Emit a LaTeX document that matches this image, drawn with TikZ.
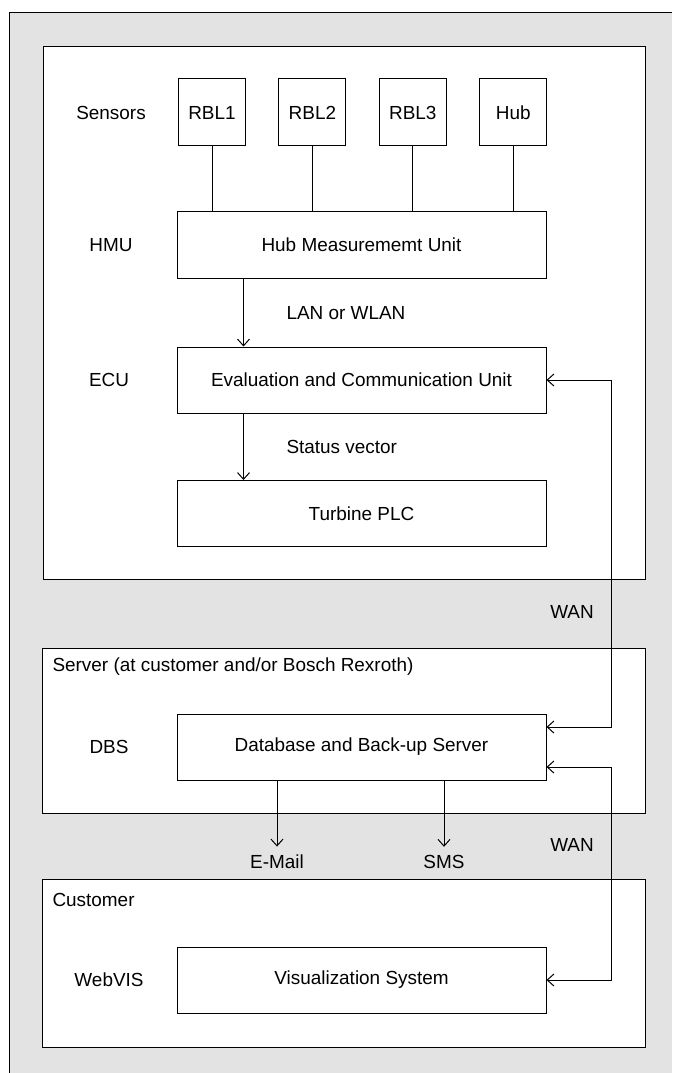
\documentclass[tikz,border=0pt]{standalone}
\usepackage{fontspec}
\setmainfont{Liberation Sans}
\usetikzlibrary{arrows.meta,positioning,calc}
\definecolor{papergray}{gray}{0.89}
\tikzset{
  sensorbox/.style={draw, fill=white, minimum width=50.25pt, minimum height=50.25pt, inner sep=0pt},
  unitbox/.style={draw, fill=white, minimum width=276.75pt, minimum height=49.5pt, inner sep=0pt},
  lbl/.style={inner sep=0pt},
}

\begin{document}
\begin{tikzpicture}[x=0.75pt,y=-0.75pt,
        line width=0.75pt,
        font=\fontsize{14.2}{17}\selectfont,
        >={Straight Barb[length=5pt,width=9pt]}]
  \useasboundingbox (0,0) rectangle (672,1073);

  %% frame and groups
  \fill[papergray] (9,13) rectangle (672,1073);
  \draw (9,1073) -- (9,13) -- (672,13);
  \draw[fill=white] (43,47) rectangle (645,579);
  \draw[fill=white] (42,648) rectangle (645,813);
  \draw[fill=white] (42,879) rectangle (645,1047);

  %% turbine
  \node [sensorbox] (sens_1) at (212,112.5) {RBL1};
  \foreach \a/\t in {2/RBL2,3/RBL3,4/Hub} {
    \pgfmathtruncatemacro{\b}{\a-1}
    \node [sensorbox,name=sens_\a] at($(sens_\b)+(100.4,0)$) {\t};
  }
  \node [lbl] (sens_lbl) at (111,112.5) {Sensors};

  \node [unitbox] (hmu) at (361.5,245) {Hub Measurememt Unit};
  \node [lbl] (hmu_lbl) at (111,245) {HMU};
  \foreach \a in {1,...,4} {
    \draw (sens_\a.south) -- (sens_\a.south |- hmu.north);
  }

  \node [unitbox] (ecu) at (361.5,380) {Evaluation and Communication Unit};
  \node [lbl] (ecu_lbl) at (109,380) {ECU};
  \node [lbl,anchor=west] (lan) at (286,313) {LAN or WLAN};
  \draw[->] ($(hmu.south west)+(67,0)$) -- ($(ecu.north west)+(67,0)$);

  \node [unitbox] (plc) at (361.5,513.5) {Turbine PLC};
  \node [lbl,anchor=west] (status) at (286,447) {Status vector};
  \draw[->] ($(ecu.south west)+(67,0)$) -- ($(plc.north west)+(67,0)$);

  %% server
  \node [lbl,anchor=west] (srv_lbl) at (52,667) {Server (at customer and/or Bosch Rexroth)};
  \node [unitbox] (dbs) at (361.5,747) {Database and Back-up Server};
  \node [lbl] (dbs_lbl) at (109,747) {DBS};
  \node [lbl] (wan_1) at (572,612) {WAN};
  \draw[<->] (ecu.east) -- ++(65,0) |- ($(dbs.east)+(0,-20)$);

  \node [lbl] (mail) at (277,862) {E-Mail};
  \node [lbl] (sms) at (444,862) {SMS};
  \draw[->] (dbs.south -| mail) -- ($(mail.north)+(0,-8)$);
  \draw[->] (dbs.south -| sms) -- ($(sms.north)+(0,-8)$);

  %% customer
  \node [lbl,anchor=west] (cust_lbl) at (52,900) {Customer};
  \node [unitbox] (vis) at (361.5,980) {Visualization System};
  \node [lbl] (vis_lbl) at (109,980) {WebVIS};
  \node [lbl] (wan_2) at (572,845) {WAN};
  \draw[<->] ($(dbs.east)+(0,20)$) -- ++(65,0) |- (vis.east);

\end{tikzpicture}
\end{document}
